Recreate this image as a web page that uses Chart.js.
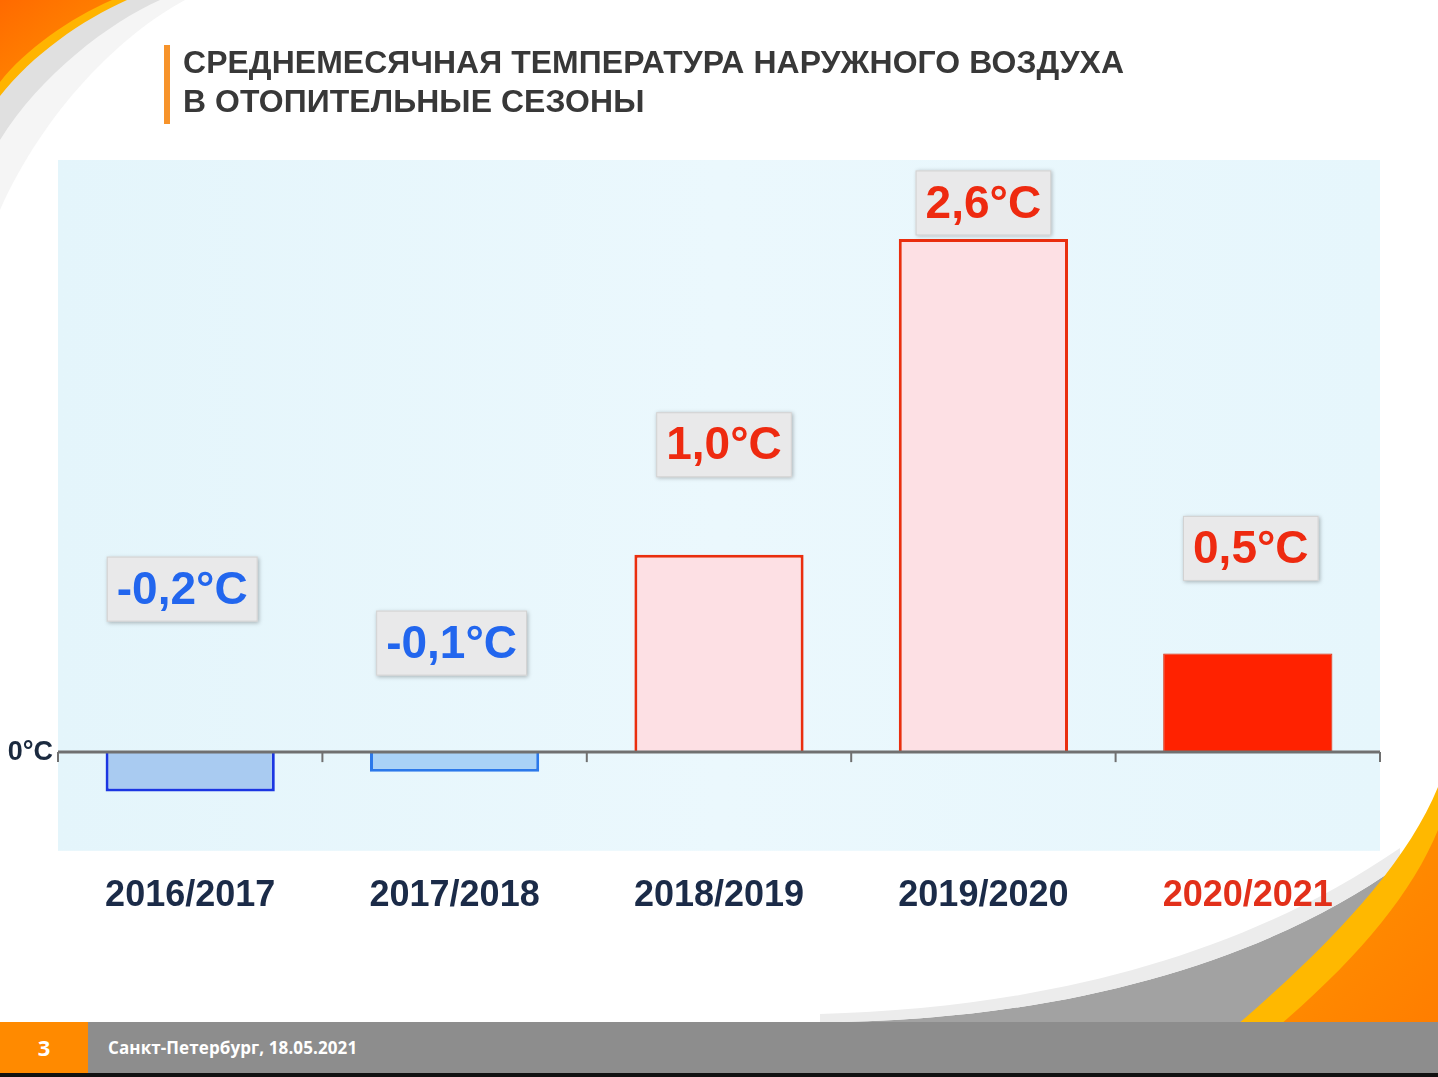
<!DOCTYPE html>
<html lang="ru">
<head>
<meta charset="utf-8">
<script src="https://cdn.jsdelivr.net/npm/chart.js@4/dist/chart.umd.min.js"></script>
<style>
  html, body { margin: 0; padding: 0; background: #ffffff; }
  body { width: 1438px; height: 1077px; position: relative; overflow: hidden; font-family: "Liberation Sans", Arial, sans-serif; }
  #deco { position: absolute; left: 0; top: 0; }
  #chart { position: absolute; left: 0; top: 0; }
  .titlebar { position: absolute; left: 164px; top: 45px; width: 6px; height: 79px; background: #f7932a; }
  .title { position: absolute; left: 183px; top: 43px; font: bold 31.9px "Liberation Sans", Arial, sans-serif; color: #383838; line-height: 39px; letter-spacing: 0.1px; white-space: nowrap; }
  .footer { position: absolute; left: 0; top: 1022px; width: 1438px; height: 51px; background: #8d8d8d; }
  .footer-bottom { position: absolute; left: 0; top: 1073px; width: 1438px; height: 4px; background: #111; }
  .pagebox { position: absolute; left: 0; top: 1022px; width: 88px; height: 51px; background: #ff8a00; color: #fff; font: bold 22px "Open Sans", sans-serif; line-height: 51px; text-align: center; }
  .foottext { position: absolute; left: 108px; top: 1036px; color: #fff; font: bold 17px "Open Sans", sans-serif; letter-spacing: 0.1px; }
</style>
</head>
<body>
<svg id="deco" width="1438" height="1077" viewBox="0 0 1438 1077">
  <defs>
    <linearGradient id="og" x1="0" y1="0" x2="1" y2="1">
      <stop offset="0" stop-color="#ff6a00"/>
      <stop offset="1" stop-color="#ff9200"/>
    </linearGradient>
    <linearGradient id="og2" x1="0" y1="0" x2="1" y2="1">
      <stop offset="0" stop-color="#ff9a00"/>
      <stop offset="1" stop-color="#ff7a00"/>
    </linearGradient>
  </defs>
  <!-- top-left swoosh -->
  <path d="M0,0 L185,0 C120,35 45,110 0,210 Z" fill="#f5f5f5"/>
  <path d="M0,0 L160,0 C110,22 40,75 0,140 Z" fill="#e0e0e0"/>
  <path d="M0,0 L127,0 C82,20 32,55 0,96 Z" fill="#ffb400"/>
  <path d="M0,0 L112,0 C70,18 25,50 0,82 Z" fill="url(#og)"/>
  <!-- bottom-right swoosh -->
  <path d="M840,1022 C1060,1018 1260,965 1400,865 L1438,865 L1438,1022 Z" fill="#a2a2a2"/>
  <path d="M820,1014 C1040,1008 1240,958 1400,848 L1400,865 C1260,965 1060,1018 840,1022 L820,1022 Z" fill="#ececec"/>
  <path d="M1438,787 C1400,880 1300,975 1175,1077 L1438,1077 Z" fill="#ffb800"/>
  <path d="M1438,830 C1405,910 1330,990 1215,1077 L1438,1077 Z" fill="url(#og2)"/>
</svg>
<div class="footer"></div>
<div class="footer-bottom"></div>
<div class="pagebox">3</div>
<div class="foottext">Санкт-Петербург, 18.05.2021</div>
<canvas id="chart" width="1438" height="1077"></canvas>
<div class="titlebar"></div>
<div class="title">СРЕДНЕМЕСЯЧНАЯ ТЕМПЕРАТУРА НАРУЖНОГО ВОЗДУХА<br>В ОТОПИТЕЛЬНЫЕ СЕЗОНЫ</div>
<script>
// ---- data ----
const seasons = ["2016/2017", "2017/2018", "2018/2019", "2019/2020", "2020/2021"];
const temperatures = [-0.2, -0.1, 1.0, 2.6, 0.5];
const valueLabels = ["-0,2°C", "-0,1°C", "1,0°C", "2,6°C", "0,5°C"];
const zeroLabel = "0°C";

// ---- styling ----
const barFills = ["#a9cbf1", "#a9d2f7", "#fde0e4", "#fde0e4", "#ff2200"];
const barBorders = ["#1b36e2", "#2b78ea", "#ea2e0e", "#ea2e0e", "#d42a08"];
const barBorderWidths = [3, 3, 3, 3, 1];
const labelColors = ["#2266ee", "#2266ee", "#ee2a10", "#ee2a10", "#ee2a10"];
const labelLift = [163, 109, 110, 36, 105];
const labelShiftX = [-8, -3, 5, 0, 3];
const tickLabelColors = ["#1b2b48", "#1b2b48", "#1b2b48", "#1b2b48", "#e2301a"];

const plotBg = {
  id: 'plotBg',
  beforeDraw(chart) {
    const { ctx, chartArea: a } = chart;
    ctx.save();
    const g = ctx.createLinearGradient(a.left, 0, a.right, 0);
    g.addColorStop(0, '#e4f5fb');
    g.addColorStop(0.5, '#ebf8fd');
    g.addColorStop(1, '#e6f6fc');
    ctx.fillStyle = g;
    ctx.fillRect(a.left, a.top, a.right - a.left, a.bottom - a.top);
    ctx.restore();
  }
};

const zeroAxis = {
  id: 'zeroAxis',
  afterDatasetsDraw(chart) {
    const { ctx, chartArea: a, scales } = chart;
    const y0 = scales.y.getPixelForValue(0);
    const x = scales.x;
    const half = (x.getPixelForValue(1) - x.getPixelForValue(0)) / 2;
    ctx.save();
    ctx.strokeStyle = '#707070';
    ctx.lineWidth = 3;
    ctx.beginPath();
    ctx.moveTo(a.left, y0);
    ctx.lineTo(a.right, y0);
    ctx.stroke();
    ctx.lineWidth = 2;
    for (let i = 0; i <= seasons.length; i++) {
      const px = i < seasons.length ? x.getPixelForValue(i) - half : x.getPixelForValue(seasons.length - 1) + half;
      ctx.beginPath();
      ctx.moveTo(px, y0);
      ctx.lineTo(px, y0 + 10);
      ctx.stroke();
    }
    ctx.restore();
  }
};

const boxLabels = {
  id: 'boxLabels',
  afterDatasetsDraw(chart) {
    const { ctx, scales } = chart;
    const meta = chart.getDatasetMeta(0);
    const y0 = scales.y.getPixelForValue(0);
    ctx.save();
    ctx.font = 'bold 46px "Liberation Sans", Arial, sans-serif';
    ctx.textAlign = 'center';
    ctx.textBaseline = 'middle';
    meta.data.forEach((bar, i) => {
      const top = Math.min(bar.y, y0);
      const cy = top - labelLift[i];
      const cx = bar.x + labelShiftX[i];
      const tw = ctx.measureText(valueLabels[i]).width;
      const w = tw + 20, h = 65;
      ctx.save();
      ctx.shadowColor = 'rgba(0,0,0,0.28)';
      ctx.shadowBlur = 4;
      ctx.shadowOffsetX = 1;
      ctx.shadowOffsetY = 1;
      ctx.fillStyle = '#e9e9ea';
      ctx.fillRect(cx - w / 2, cy - h / 2, w, h);
      ctx.restore();
      ctx.strokeStyle = '#d2d2d2';
      ctx.lineWidth = 1;
      ctx.strokeRect(cx - w / 2 + 0.5, cy - h / 2 + 0.5, w - 1, h - 1);
      ctx.fillStyle = labelColors[i];
      ctx.fillText(valueLabels[i], cx, cy + 2);
    });
    ctx.restore();
  }
};

new Chart(document.getElementById('chart'), {
  type: 'bar',
  data: {
    labels: seasons,
    datasets: [{
      data: temperatures,
      backgroundColor: barFills,
      borderColor: barBorders,
      borderWidth: barBorderWidths,
      borderSkipped: 'start',
      barPercentage: 0.64,
      categoryPercentage: 1.0
    }]
  },
  options: {
    responsive: false,
    animation: false,
    layout: { padding: { top: 160, bottom: 135, right: 58, left: 0 } },
    plugins: { legend: { display: false }, tooltip: { enabled: false } },
    scales: {
      x: {
        grid: { display: false, drawTicks: false },
        border: { display: false },
        ticks: {
          padding: 24,
          color: tickLabelColors,
          font: { family: '"Liberation Sans", Arial, sans-serif', size: 36, weight: 'bold' }
        }
      },
      y: {
        min: -0.5,
        max: 3.0,
        afterFit(scale) { scale.width = 58; },
        grid: { display: false, drawTicks: false },
        border: { display: false },
        ticks: {
          stepSize: 0.5,
          padding: 5,
          color: '#1b2a3f',
          font: { family: '"Liberation Sans", Arial, sans-serif', size: 27, weight: 'bold' },
          callback: (v) => (v === 0 ? zeroLabel : '')
        }
      }
    }
  },
  plugins: [plotBg, zeroAxis, boxLabels]
});
</script>
</body>
</html>
